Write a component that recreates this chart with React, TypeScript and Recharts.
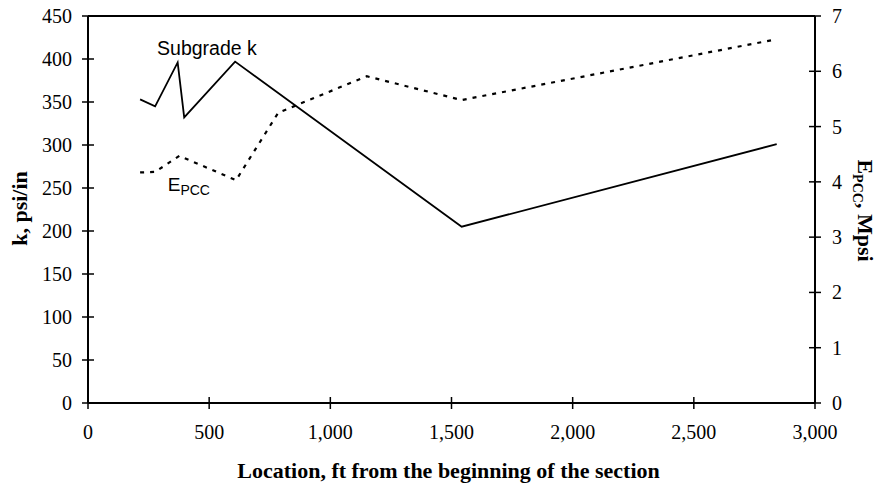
import { LineChart, Line, XAxis, YAxis, ReferenceLine, ReferenceDot, Label } from "recharts";

// location along the section, ft
const kLocations = [215, 277, 370, 397, 607, 1542, 2842];
// subgrade k, psi/in
const kValues = [353, 345, 396, 332, 397, 205, 301];

const eLocations = [215, 277, 377, 611, 785, 1150, 1542, 2842];
// E_PCC, Mpsi
const eValues = [4.17, 4.18, 4.47, 4.03, 5.25, 5.91, 5.48, 6.58];

const xTicks = [0, 500, 1000, 1500, 2000, 2500, 3000];
const kTicks = [0, 50, 100, 150, 200, 250, 300, 350, 400, 450];
const eTicks = [0, 1, 2, 3, 4, 5, 6, 7];

const kData = kLocations.map((loc, i) => ({ loc, k: kValues[i] }));
const eData = eLocations.map((loc, i) => ({ loc, e: eValues[i] }));

const SERIF = "'Liberation Serif', 'Times New Roman', serif";
const SANS = "'Liberation Sans', Arial, sans-serif";

function LeftTick({ x, y, payload }: any) {
  return (
    <g>
      <line x1={x - 6} x2={x + 6} y1={y} y2={y} stroke="#000" strokeWidth={1.5} />
      <text x={x - 16} y={y} textAnchor="end" dominantBaseline="central" style={{ fontFamily: SERIF }} fontSize={20} fill="#000">
        {payload.value}
      </text>
    </g>
  );
}

function RightTick({ x, y, payload }: any) {
  return (
    <g>
      <line x1={x - 6} x2={x + 6} y1={y} y2={y} stroke="#000" strokeWidth={1.5} />
      <text x={x + 17} y={y} textAnchor="start" dominantBaseline="central" style={{ fontFamily: SERIF }} fontSize={20} fill="#000">
        {payload.value}
      </text>
    </g>
  );
}

function BottomTick({ x, y, payload }: any) {
  return (
    <g>
      <line x1={x} x2={x} y1={y - 6} y2={y + 6} stroke="#000" strokeWidth={1.5} />
      <text x={x} y={y + 36} textAnchor="middle" style={{ fontFamily: SERIF }} fontSize={20} fill="#000">
        {Number(payload.value).toLocaleString("en-US")}
      </text>
    </g>
  );
}

export default function App() {
  return (
    <div style={{ position: "absolute", left: 0, top: 0, width: 882, height: 487, background: "#fff" }}>
      <LineChart width={882} height={487} margin={{ top: 16, right: 0, bottom: 0, left: 0 }}>
        <XAxis
          type="number"
          dataKey="loc"
          domain={[0, 3000]}
          ticks={xTicks}
          height={84}
          tickSize={0}
          tickMargin={0}
          tickLine={false}
          tick={<BottomTick />}
          axisLine={{ stroke: "#000", strokeWidth: 2 }}
          allowDataOverflow
        >
          <Label
            content={({ viewBox }: any) => (
              <text
                x={viewBox.x + viewBox.width / 2 - 3}
                y={viewBox.y + 75}
                textAnchor="middle"
                fontFamily={SERIF}
                fontWeight="bold"
                fontSize={22}
                fill="#000"
              >
                Location, ft from the beginning of the section
              </text>
            )}
          />
        </XAxis>
        <YAxis
          yAxisId="left"
          orientation="left"
          domain={[0, 450]}
          ticks={kTicks}
          width={88}
          tickSize={0}
          tickMargin={0}
          tickLine={false}
          tick={<LeftTick />}
          axisLine={{ stroke: "#000", strokeWidth: 2 }}
          allowDataOverflow
        >
          <Label
            content={({ viewBox }: any) => {
              const cx = 27;
              const cy = viewBox.y + viewBox.height / 2 - 1;
              return (
                <text
                  x={cx}
                  y={cy}
                  transform={`rotate(-90, ${cx}, ${cy})`}
                  textAnchor="middle"
                  fontFamily={SERIF}
                  fontWeight="bold"
                  fontSize={22}
                  fill="#000"
                >
                  k, psi/in
                </text>
              );
            }}
          />
        </YAxis>
        <YAxis
          yAxisId="right"
          orientation="right"
          domain={[0, 7]}
          ticks={eTicks}
          width={67}
          tickSize={0}
          tickMargin={0}
          tickLine={false}
          tick={<RightTick />}
          axisLine={{ stroke: "#000", strokeWidth: 2 }}
          allowDataOverflow
        >
          <Label
            content={({ viewBox }: any) => {
              const cx = viewBox.x + 43;
              const cy = viewBox.y + viewBox.height / 2 + 1;
              return (
                <text
                  x={cx}
                  y={cy}
                  transform={`rotate(90, ${cx}, ${cy})`}
                  textAnchor="middle"
                  fontFamily={SERIF}
                  fontWeight="bold"
                  fontSize={22}
                  fill="#000"
                >
                  E
                  <tspan dy={5} fontSize={14}>PCC</tspan>
                  <tspan dy={-5}>, Mpsi</tspan>
                </text>
              );
            }}
          />
        </YAxis>
        <ReferenceLine yAxisId="left" y={450} stroke="#000" strokeWidth={2} />
        <Line
          data={kData}
          yAxisId="left"
          dataKey="k"
          type="linear"
          stroke="#000"
          strokeWidth={1.8}
          dot={false}
          isAnimationActive={false}
        />
        <Line
          data={eData}
          yAxisId="right"
          dataKey="e"
          type="linear"
          stroke="#000"
          strokeWidth={2.2}
          strokeDasharray="4 6"
          dot={false}
          isAnimationActive={false}
        />
        <ReferenceDot
          yAxisId="left"
          x={285}
          y={405}
          r={0}
          fill="none"
          stroke="none"
          label={({ viewBox }: any) => (
            <text x={viewBox.x} y={viewBox.y} fontFamily={SANS} fontSize={19.5} fill="#000">
              Subgrade k
            </text>
          )}
        />
        <ReferenceDot
          yAxisId="left"
          x={329}
          y={246}
          r={0}
          fill="none"
          stroke="none"
          label={({ viewBox }: any) => (
            <text x={viewBox.x} y={viewBox.y} fontFamily={SANS} fontSize={19} fill="#000">
              E
              <tspan dy={4} fontSize={14}>PCC</tspan>
            </text>
          )}
        />
      </LineChart>
    </div>
  );
}
